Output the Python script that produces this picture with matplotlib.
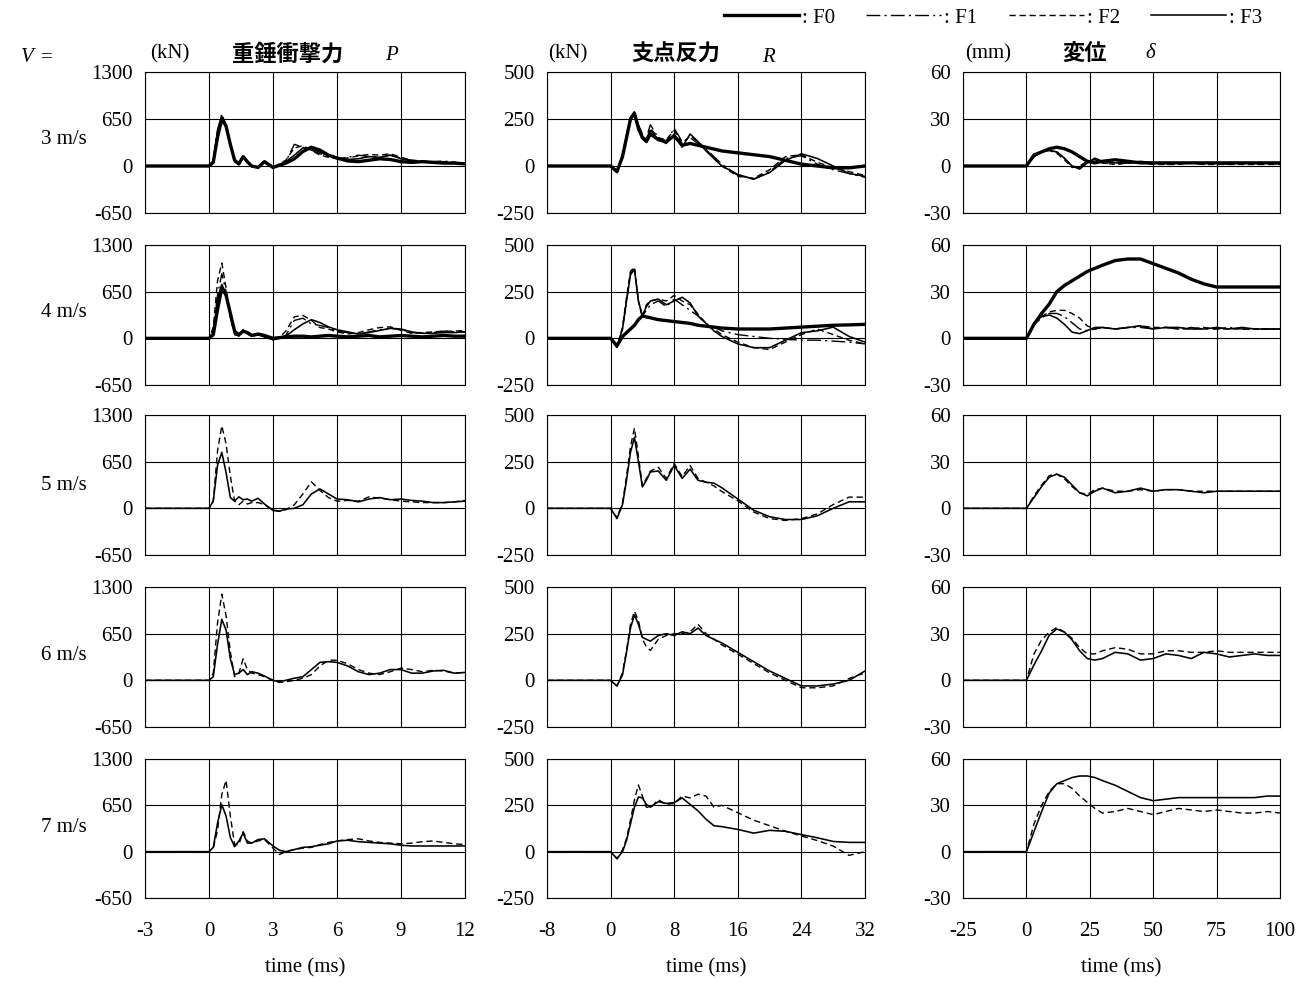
import matplotlib
matplotlib.use('Agg')
import matplotlib.pyplot as plt
from matplotlib.lines import Line2D

# ---------------- data ----------------
velocities = ['3 m/s', '4 m/s', '5 m/s', '6 m/s', '7 m/s']
series_names = ['F0', 'F1', 'F2', 'F3']

# time grids (ms)
t_P = [-3, 0, 0.2, 0.4, 0.6, 0.8, 1.0, 1.2, 1.4, 1.6, 1.8, 2.0, 2.3, 2.6, 3.0, 3.3, 3.6, 4.0,
       4.4, 4.8, 5.2, 5.6, 6.0, 6.5, 7.0, 7.5, 8.0, 8.5, 9.0, 9.5, 10.0, 10.5, 11.0, 11.5, 12.0]
t_R = [-8, 0, 0.8, 1.5, 2.0, 2.5, 3.0, 3.5, 4.0, 4.5, 5.0, 6.0, 7.0, 8.0, 9.0, 10.0, 11.0, 12.0,
       13.0, 14.0, 16.0, 18.0, 20.0, 22.0, 24.0, 26.0, 28.0, 30.0, 32.0]
t_D = [-25, 0, 3, 6, 9, 12, 15, 18, 21, 24, 27, 30, 35, 40, 45, 50, 55, 60, 65, 70, 75, 80, 85,
       90, 95, 100]

# impact force P (kN)
P3_F0 = [0, 0, 50, 400, 650, 550, 300, 80, 30, 130, 60, 0, -20, 60, -20, 10, 40, 100, 200, 260,
         220, 150, 110, 70, 60, 80, 100, 90, 60, 50, 60, 50, 40, 40, 30]
P3_F1 = [0, 0, 80, 500, 720, 560, 280, 60, 20, 120, 40, 0, -10, 50, -30, 20, 60, 300, 260, 220,
         170, 130, 100, 120, 150, 130, 120, 150, 110, 80, 60, 60, 70, 50, 40]
P3_F2 = [0, 0, 60, 450, 700, 580, 300, 70, 30, 140, 50, -10, -20, 70, -20, 30, 80, 250, 280, 220,
         150, 120, 100, 110, 140, 160, 150, 170, 120, 80, 70, 60, 60, 50, 40]
P3_F3 = [0, 0, 70, 480, 690, 560, 290, 60, 20, 120, 50, 0, -15, 60, -25, 20, 60, 150, 250, 240,
         190, 140, 110, 90, 100, 130, 120, 150, 100, 70, 60, 50, 50, 40, 30]

P4_F0 = [0, 0, 50, 400, 700, 600, 350, 100, 50, 100, 80, 40, 60, 40, 0, 10, 20, 30, 30, 20,
         30, 40, 30, 20, 30, 40, 20, 30, 40, 30, 20, 30, 40, 30, 30]
P4_F1 = [0, 0, 100, 600, 900, 650, 300, 60, 30, 120, 60, 30, 60, 20, -20, 10, 40, 250, 280, 200,
         180, 150, 100, 80, 60, 90, 120, 140, 120, 80, 70, 80, 100, 90, 90]
P4_F2 = [0, 0, 150, 800, 1050, 700, 300, 50, 30, 120, 60, 30, 50, 20, -20, 10, 100, 300, 320, 250,
         150, 130, 90, 60, 80, 120, 150, 160, 110, 70, 80, 90, 100, 100, 110]
P4_F3 = [0, 0, 80, 550, 750, 620, 320, 80, 40, 110, 70, 30, 50, 20, -20, 0, 30, 120, 200, 260,
         220, 160, 120, 90, 60, 80, 110, 140, 130, 90, 70, 70, 80, 80, 90]

P5_F2 = [0, 0, 100, 800, 1150, 900, 450, 100, 50, 100, 60, 80, 80, 50, -20, -40, -20, 50, 200, 370,
         250, 150, 100, 110, 100, 160, 140, 120, 100, 90, 80, 80, 80, 90, 110]
P5_F3 = [0, 0, 100, 600, 780, 500, 150, 100, 160, 120, 130, 100, 140, 60, -30, -40, -10, 0, 50, 200,
         270, 200, 130, 120, 90, 130, 150, 120, 130, 110, 100, 80, 80, 90, 100]

P6_F2 = [0, 0, 100, 800, 1200, 900, 400, 50, 100, 300, 150, 100, 80, 50, 0, -30, -20, 0, 30, 80,
         200, 280, 280, 230, 150, 100, 80, 120, 170, 150, 120, 140, 130, 100, 110]
P6_F3 = [0, 0, 50, 500, 850, 700, 300, 80, 100, 150, 80, 120, 100, 60, 0, -20, 0, 30, 50, 150,
         250, 260, 250, 200, 120, 80, 100, 150, 150, 100, 100, 130, 140, 100, 110]

P7_F2 = [0, 0, 50, 300, 800, 1000, 500, 100, 100, 280, 150, 120, 150, 170, 50, -40, 0, 30, 50, 60,
         100, 130, 150, 170, 180, 150, 130, 120, 110, 120, 140, 150, 130, 110, 100]
P7_F3 = [0, 0, 60, 400, 660, 500, 200, 70, 150, 260, 120, 120, 170, 180, 80, 20, 0, 30, 60, 70,
         90, 110, 150, 160, 140, 130, 120, 110, 90, 80, 80, 80, 80, 80, 80]

# support reaction R (kN)
R3_F0 = [0, 0, -30, 50, 150, 250, 280, 200, 150, 130, 170, 140, 130, 160, 110, 120, 110, 100, 90, 80,
         70, 60, 50, 30, 10, 0, -10, -10, 0]
R3_F1 = [0, 0, -30, 60, 160, 260, 290, 220, 170, 150, 220, 150, 130, 200, 130, 150, 120, 90, 50, 10,
         -50, -70, -30, 40, 55, 10, -20, -40, -60]
R3_F2 = [0, 0, -35, 50, 150, 260, 285, 210, 160, 140, 200, 150, 140, 190, 120, 160, 130, 90, 40, 0,
         -55, -65, -20, 50, 60, 20, -10, -30, -50]
R3_F3 = [0, 0, -30, 55, 160, 255, 280, 200, 150, 130, 190, 140, 120, 170, 100, 170, 130, 80, 40, 0,
         -45, -70, -35, 30, 65, 40, 0, -40, -55]

R4_F0 = [0, 0, -40, 10, 30, 50, 70, 100, 120, 115, 110, 100, 95, 90, 85, 80, 70, 65, 60, 55,
         50, 50, 50, 55, 60, 65, 70, 72, 75]
R4_F1 = [0, 0, -45, 50, 200, 350, 370, 200, 120, 150, 180, 200, 170, 210, 180, 150, 120, 80, 60, 40,
         20, 10, 0, -5, -10, -10, -15, -20, -30]
R4_F2 = [0, 0, -50, 60, 220, 360, 380, 200, 110, 180, 200, 210, 200, 230, 200, 180, 130, 80, 50, 20,
         -20, -50, -60, -20, 20, 50, 20, -10, -30]
R4_F3 = [0, 0, -45, 50, 200, 340, 370, 200, 120, 170, 200, 210, 180, 200, 220, 190, 120, 80, 40, 10,
         -30, -50, -50, -10, 30, 40, 60, 10, -20]

R5_F2 = [0, 0, -50, 30, 170, 330, 430, 280, 120, 160, 200, 220, 160, 240, 170, 230, 160, 140, 120, 90,
         40, -20, -55, -65, -55, -30, 20, 60, 60]
R5_F3 = [0, 0, -55, 20, 150, 300, 380, 250, 115, 150, 195, 200, 150, 230, 160, 210, 150, 140, 135, 110,
         50, -10, -45, -60, -60, -40, 0, 35, 35]

R6_F2 = [0, 0, -30, 40, 160, 300, 370, 320, 220, 180, 160, 220, 240, 250, 250, 260, 300, 250, 220, 190,
         140, 90, 40, 0, -40, -40, -30, 10, 40]
R6_F3 = [0, 0, -30, 30, 150, 280, 350, 300, 230, 220, 210, 240, 250, 240, 260, 250, 280, 240, 220, 200,
         150, 100, 50, 10, -30, -30, -20, 0, 50]

R7_F2 = [0, 0, -38, 10, 70, 170, 280, 360, 300, 240, 237, 280, 255, 260, 300, 290, 310, 300, 240, 250,
         210, 170, 140, 110, 85, 60, 30, -20, 0]
R7_F3 = [0, 0, -38, 0, 60, 150, 240, 295, 290, 255, 240, 270, 260, 265, 290, 255, 220, 175, 140, 135,
         120, 100, 115, 110, 92, 75, 55, 50, 50]

# displacement delta (mm)
D3_F0 = [0, 0, 7, 9, 11, 12, 11, 9, 6, 3, 2, 3, 4, 3, 2, 2, 2, 2, 2, 2, 2, 2, 2, 2, 2, 2]
D3_F1 = [0, 0, 6, 9, 10, 9, 5, 0, -1, 3, 4, 2, 1, 2, 2, 2, 1, 2, 2, 1, 2, 1, 2, 1, 2, 1]
D3_F2 = [0, 0, 6, 9, 10, 8, 4, -1, 0, 3, 4, 2, 1, 2, 2, 1, 1, 1, 2, 1, 1, 1, 1, 1, 1, 1]
D3_F3 = [0, 0, 6, 9, 10, 9, 5, 0, -2, 2, 5, 3, 2, 2, 3, 2, 2, 2, 2, 2, 2, 2, 2, 2, 2, 2]

D4_F0 = [0, 0, 9, 16, 22, 30, 34, 37, 40, 43, 45, 47, 50, 51, 51, 48, 45, 42, 38, 35, 33, 33, 33, 33, 33, 33]
D4_F1 = [0, 0, 9, 13, 16, 16, 14, 10, 6, 5, 6, 7, 6, 7, 7, 6, 7, 6, 7, 6, 6, 7, 6, 6, 6, 6]
D4_F2 = [0, 0, 10, 14, 17, 18, 18, 16, 13, 8, 6, 7, 6, 7, 8, 7, 7, 6, 6, 7, 6, 6, 6, 6, 6, 6]
D4_F3 = [0, 0, 10, 14, 15, 13, 9, 4, 3, 5, 7, 7, 6, 7, 8, 6, 7, 7, 6, 6, 7, 6, 7, 6, 6, 6]

D5_F2 = [0, 0, 8, 15, 21, 22, 19, 14, 10, 9, 12, 13, 11, 11, 12, 11, 12, 12, 11, 11, 11, 11, 11, 11, 11, 11]
D5_F3 = [0, 0, 7, 14, 20, 22, 20, 15, 10, 8, 11, 13, 10, 11, 13, 11, 12, 12, 11, 10, 11, 11, 11, 11, 11, 11]

D6_F2 = [0, 0, 17, 26, 31, 34, 31, 27, 21, 17, 17, 19, 21, 20, 17, 17, 19, 19, 18, 18, 19, 18, 18, 18, 18, 18]
D6_F3 = [0, 0, 10, 19, 29, 33, 31, 26, 19, 14, 13, 14, 18, 17, 13, 14, 17, 16, 14, 18, 17, 15, 16, 17, 16, 16]

D7_F2 = [0, 0, 18, 30, 39, 44, 44, 41, 36, 32, 28, 25, 26, 28, 26, 24, 26, 28, 27, 26, 27, 26, 25, 25, 26, 25]
D7_F3 = [0, 0, 13, 26, 38, 44, 46, 48, 49, 49, 48, 46, 43, 39, 35, 33, 34, 35, 35, 35, 35, 35, 35, 35, 36, 36]

x_ticks_P = [-3, 0, 3, 6, 9, 12]
x_ticks_R = [-8, 0, 8, 16, 24, 32]
x_ticks_D = [-25, 0, 25, 50, 75, 100]
y_ticks_P = [-650, 0, 650, 1300]
y_ticks_R = [-250, 0, 250, 500]
y_ticks_D = [-30, 0, 30, 60]

panel_data = [
    [{'F0': P3_F0, 'F1': P3_F1, 'F2': P3_F2, 'F3': P3_F3},
     {'F0': R3_F0, 'F1': R3_F1, 'F2': R3_F2, 'F3': R3_F3},
     {'F0': D3_F0, 'F1': D3_F1, 'F2': D3_F2, 'F3': D3_F3}],
    [{'F0': P4_F0, 'F1': P4_F1, 'F2': P4_F2, 'F3': P4_F3},
     {'F0': R4_F0, 'F1': R4_F1, 'F2': R4_F2, 'F3': R4_F3},
     {'F0': D4_F0, 'F1': D4_F1, 'F2': D4_F2, 'F3': D4_F3}],
    [{'F2': P5_F2, 'F3': P5_F3}, {'F2': R5_F2, 'F3': R5_F3}, {'F2': D5_F2, 'F3': D5_F3}],
    [{'F2': P6_F2, 'F3': P6_F3}, {'F2': R6_F2, 'F3': R6_F3}, {'F2': D6_F2, 'F3': D6_F3}],
    [{'F2': P7_F2, 'F3': P7_F3}, {'F2': R7_F2, 'F3': R7_F3}, {'F2': D7_F2, 'F3': D7_F3}],
]

# ---------------- figure ----------------
W, H = 1303, 984
SERIF = ['Liberation Serif', 'DejaVu Serif']
CJK = ['Noto Sans CJK JP', 'DejaVu Sans']
plt.rcParams['font.family'] = SERIF

fig = plt.figure(figsize=(W / 100, H / 100), dpi=100)
fig.patch.set_facecolor('white')

styles = {
    'F0': dict(color='black', lw=2.4, ls='-'),
    'F1': dict(color='black', lw=1.0, ls=(0, (10, 3, 1.5, 3))),
    'F2': dict(color='black', lw=1.0, ls=(0, (4.5, 2.7))),
    'F3': dict(color='black', lw=1.15, ls='-'),
}

col_specs = [
    dict(t=t_P, xt=x_ticks_P, yt=y_ticks_P, left=145, width=320),
    dict(t=t_R, xt=x_ticks_R, yt=y_ticks_R, left=547, width=318),
    dict(t=t_D, xt=x_ticks_D, yt=y_ticks_D, left=963, width=317),
]
row_specs = [(72, 141), (245, 140), (415, 140), (587, 140), (759, 139)]

FS = 15

def px(x, y):
    return x / W, 1 - y / H

for r, (top, h) in enumerate(row_specs):
    for c, cs in enumerate(col_specs):
        ax = fig.add_axes([cs['left'] / W, 1 - (top + h) / H, cs['width'] / W, h / H])
        for name in series_names:
            if name in panel_data[r][c]:
                ax.plot(cs['t'], panel_data[r][c][name], **styles[name])
        ax.set_xlim(cs['xt'][0], cs['xt'][-1])
        ax.set_ylim(cs['yt'][0], cs['yt'][-1])
        ax.set_xticks(cs['xt'])
        ax.set_yticks(cs['yt'])
        ax.grid(True, color='black', lw=0.8)
        ax.set_axisbelow(True)
        for sp in ax.spines.values():
            sp.set_linewidth(0.8)
        ax.tick_params(length=0, labelsize=FS)
        ax.tick_params(axis='y', pad=9)
        ax.tick_params(axis='x', pad=17)
        if r < 4:
            ax.set_xticklabels([])
        else:
            ax.set_xticklabels([str(v) for v in cs['xt']])
        ax.set_yticklabels([str(v) for v in cs['yt']])

# row labels
fig.text(*px(21, 58), 'V', ha='left', va='center', fontsize=FS, style='italic')
fig.text(*px(41, 58), '=', ha='left', va='center', fontsize=FS)
row_label_y = [140, 312, 485, 655, 827]
for lab, y in zip(velocities, row_label_y):
    fig.text(*px(64, y), lab, ha='center', va='center', fontsize=FS)

# column headers
fig.text(*px(150, 54), '(kN)', ha='left', va='center', fontsize=FS)
fig.text(*px(288, 54), '重錘衝撃力', ha='center', va='center', fontsize=16,
         family=CJK, weight='bold')
fig.text(*px(391, 56), 'P', ha='center', va='center', fontsize=FS, style='italic')

fig.text(*px(548, 54), '(kN)', ha='left', va='center', fontsize=FS)
fig.text(*px(676, 54), '支点反力', ha='center', va='center', fontsize=16,
         family=CJK, weight='bold')
fig.text(*px(768, 58), 'R', ha='center', va='center', fontsize=FS, style='italic')

fig.text(*px(965, 54), '(mm)', ha='left', va='center', fontsize=FS)
fig.text(*px(1085, 54), '変位', ha='center', va='center', fontsize=16,
         family=CJK, weight='bold')
fig.text(*px(1150, 54), 'δ', ha='center', va='center', fontsize=FS, style='italic')

# x labels
for cs in col_specs:
    fig.text(*px(cs['left'] + cs['width'] / 2, 968), 'time (ms)', ha='center', va='center',
             fontsize=FS)

# legend
handles = [Line2D([], [], **styles[n]) for n in series_names]
fig.legend(handles, [': ' + n for n in series_names], loc='center',
           bbox_to_anchor=(px(993, 18)), ncol=4, frameon=False, fontsize=FS,
           handlelength=3.6, handletextpad=0.15, columnspacing=1.5, borderpad=0)

fig.savefig('out.png', dpi=100, facecolor='white')
